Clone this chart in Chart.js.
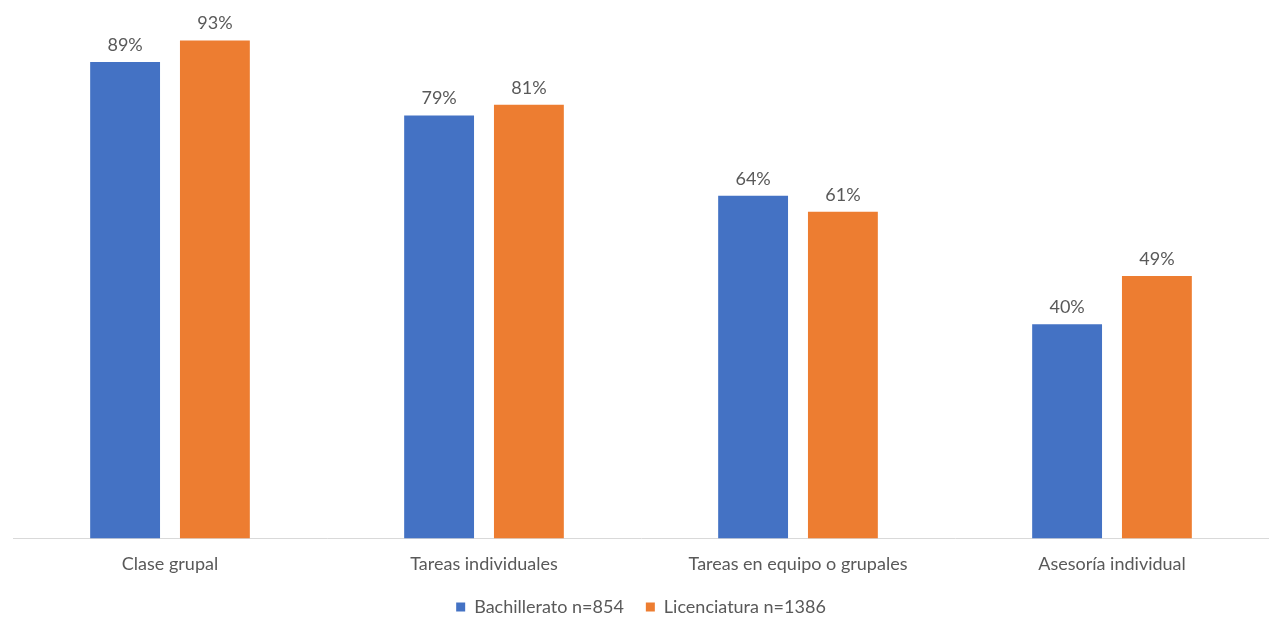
<!DOCTYPE html>
<html>
<head>
<meta charset="utf-8">
<script src="https://cdn.jsdelivr.net/npm/chart.js@4.4.1/dist/chart.umd.min.js"></script>
<style>
  html, body { margin: 0; padding: 0; background: #fff; overflow: hidden; }
  #wrap { width: 1269px; height: 626px; }
</style>
</head>
<body>
<div id="wrap"><canvas id="grafica"></canvas></div>
<script>
// Categorías y series
const categorias = ['Clase grupal', 'Tareas individuales', 'Tareas en equipo o grupales', 'Asesoría individual'];
const bachillerato = [89, 79, 64, 40];
const licenciatura = [93, 81, 61, 49];
const nombresSeries = ['Bachillerato n=854', 'Licenciatura n=1386'];

const gris = '#595959';
const fuente = "Lato, 'Open Sans', sans-serif";

// Etiquetas de porcentaje encima de cada barra
const etiquetasValor = {
    id: 'etiquetasValor',
    afterDatasetsDraw(chart) {
        const ctx = chart.ctx;
        ctx.save();
        ctx.font = '18px ' + fuente;
        ctx.fillStyle = gris;
        ctx.textAlign = 'center';
        ctx.textBaseline = 'bottom';
        chart.data.datasets.forEach((ds, i) => {
            chart.getDatasetMeta(i).data.forEach((bar, j) => {
                ctx.fillText(ds.data[j] + '%', bar.x, bar.y - 8);
            });
        });
        ctx.restore();
    }
};

new Chart(document.getElementById('grafica'), {
    type: 'bar',
    data: {
        labels: categorias,
        datasets: [{
            label: nombresSeries[0],
            data: bachillerato,
            backgroundColor: '#4472C4',
            categoryPercentage: 0.572,
            barPercentage: 0.778
        }, {
            label: nombresSeries[1],
            data: licenciatura,
            backgroundColor: '#ED7D31',
            categoryPercentage: 0.572,
            barPercentage: 0.778
        }]
    },
    options: {
        responsive: true,
        maintainAspectRatio: false,
        animation: false,
        layout: { padding: { left: 13, right: 0, top: 3, bottom: 0 } },
        scales: {
            x: {
                grid: { display: false, drawTicks: false },
                border: { color: '#d9d9d9', width: 1 },
                ticks: { color: gris, font: { family: fuente, size: 18 }, padding: 15 },
                // eje más bajo para acercar la leyenda
                afterFit(scale) { scale.height -= 14; }
            },
            y: { display: false, min: 0, max: 100 }
        },
        plugins: {
            legend: {
                position: 'bottom',
                labels: {
                    color: gris,
                    font: { family: fuente, size: 18 },
                    boxWidth: 9,
                    boxHeight: 9,
                    padding: 22
                }
            },
            tooltip: { enabled: false }
        }
    },
    plugins: [etiquetasValor]
});
</script>
</body>
</html>
